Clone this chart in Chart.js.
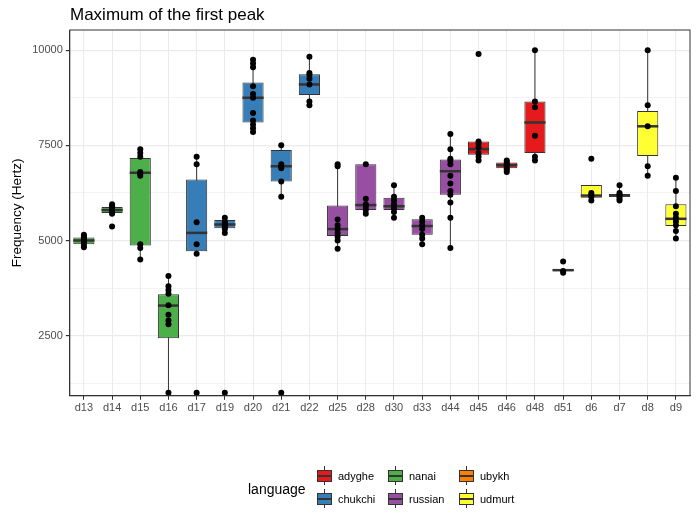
<!DOCTYPE html>
<html>
<head>
<meta charset="utf-8">
<script src="https://cdn.jsdelivr.net/npm/chart.js@4"></script>
<style>
  body { margin:0; background:#fff; font-family:"Liberation Sans", Arial, sans-serif; }
  #wrap { position:relative; width:700px; height:525px; }
  #title { position:absolute; left:70px; top:5px; font-size:17px; color:#000; }
  #legend { position:absolute; left:248px; top:465px; font-size:11px; color:#000; }
  #legend .ttl { position:absolute; left:0; top:16px; font-size:14px; }
  .item { position:absolute; height:17px; display:flex; align-items:center; white-space:nowrap; }
  .key { position:relative; width:17px; height:17px; margin-right:5px; }
  .key .bx { position:absolute; left:1px; top:3px; width:13px; height:10px; border:1px solid #333; }
  .key .md { position:absolute; left:1px; top:8px; width:15px; height:1.5px; background:#333; }
  .key .wh { position:absolute; left:8px; top:-1px; width:1px; height:19px; background:#333; }
</style>
</head>
<body>
<div id="wrap">
  <canvas id="chart" width="700" height="525"></canvas>
  <div id="title">Maximum of the first peak</div>
  <div id="legend"><span class="ttl">language</span></div>
</div>
<script>
// категории и язык
const labels = ['d13','d14','d15','d16','d17','d19','d20','d21','d22','d25','d28','d30','d33','d44','d45','d46','d48','d51','d6','d7','d8','d9'];
const lang = ['nanai','nanai','nanai','nanai','chukchi','chukchi','chukchi','chukchi','chukchi','russian','russian','russian','russian','russian','adyghe','adyghe','adyghe','ubykh','udmurt','udmurt','udmurt','udmurt'];
const langColors = { adyghe:'#E41A1C', chukchi:'#377EB8', nanai:'#4DAF4A', russian:'#984EA3', ubykh:'#FF7F00', udmurt:'#FFFF33' };

// box statistics
const q1     = [4900,5720,4870,2430,4720,5320,8100,6550,8820,5120,5800,5800,5150,6200,7250,6900,7300,4200,6120,6150,7220,5380];
const median = [5000,5800,6780,3290,5200,5420,8750,6950,9100,5300,5930,5900,5380,6820,7400,6980,8100,4220,6180,6180,8000,5570];
const q3     = [5080,5880,7170,3590,6600,5540,9150,7380,9370,5920,7000,6120,5560,7130,7600,7050,8650,4250,6460,6220,8400,5950];
const wLow   = [4820,5650,4500,1000,4650,5200,7850,6150,8550,4780,5700,5600,4900,4800,7100,6800,7100,4150,6050,6050,6700,5050];
const wHigh  = [5150,5950,7400,4070,7200,5600,9750,7500,9830,7000,7000,6450,5600,7800,7600,7100,10000,4250,6460,6450,10000,6650];

// observations
const points = {
  d13:[4820,4880,4950,5000,5030,5080,5120,5150],
  d14:[5370,5700,5750,5800,5830,5870,5900,5950],
  d15:[4500,4800,4900,6700,6750,6800,7200,7300,7400],
  d16:[1000,2800,2900,3050,3300,3600,3700,3800,4070],
  d17:[1000,4650,4900,5480,7000,7200],
  d19:[1000,5200,5300,5350,5400,5450,5500,5600],
  d20:[7850,7950,8050,8150,8350,8750,8850,9050,9550,9650,9750],
  d21:[1000,6150,6550,6900,6950,7000,7500],
  d22:[8550,8650,9100,9250,9350,9400,9830],
  d25:[4780,5000,5100,5200,5300,5400,5550,6950,7000],
  d28:[5700,5800,5880,5950,6100,7000],
  d30:[5600,5750,5850,5950,6050,6150,6450],
  d33:[4900,5050,5150,5300,5400,5500,5600],
  d44:[4800,5600,6000,6200,6300,6500,6700,7000,7100,7150,7400,7800],
  d45:[7100,7200,7300,7450,7550,7600,9900],
  d46:[6800,6850,6900,6950,7000,7050,7100],
  d48:[7100,7200,7750,8500,8650,10000],
  d51:[4150,4200,4450],
  d6:[6050,6150,6200,6250,7150],
  d7:[6050,6100,6150,6200,6250,6450],
  d8:[6700,6950,8000,8550,10000],
  d9:[5050,5250,5400,5500,5600,5700,5900,6300,6650]
};

const scatter = [];
labels.forEach(l => points[l].forEach(v => scatter.push({x:l, y:v})));

// whiskers + медиана
const boxPlugin = {
  id:'boxExtras',
  beforeDatasetDraw(chart, args) {
    if (args.index !== 0) return;
    const ctx = chart.ctx, y = chart.scales.y;
    const meta = chart.getDatasetMeta(0);
    ctx.save(); ctx.strokeStyle = '#333'; ctx.lineWidth = 1;
    meta.data.forEach((bar, i) => {
      ctx.beginPath();
      ctx.moveTo(bar.x, y.getPixelForValue(wLow[i]));
      ctx.lineTo(bar.x, y.getPixelForValue(wHigh[i]));
      ctx.stroke();
    });
    ctx.restore();
  },
  afterDatasetDraw(chart, args) {
    if (args.index !== 0) return;
    const ctx = chart.ctx, y = chart.scales.y;
    const meta = chart.getDatasetMeta(0);
    ctx.save(); ctx.strokeStyle = '#333'; ctx.lineWidth = 2.5;
    meta.data.forEach((bar, i) => {
      const py = y.getPixelForValue(median[i]);
      ctx.beginPath();
      ctx.moveTo(bar.x - bar.width/2, py);
      ctx.lineTo(bar.x + bar.width/2, py);
      ctx.stroke();
    });
    ctx.restore();
  }
};

new Chart(document.getElementById('chart'), {
  data: {
    labels: labels,
    datasets: [
      { type:'bar', order:2, data: labels.map((_,i)=>[q1[i], q3[i]]),
        backgroundColor: lang.map(l=>langColors[l]), borderColor:'#333', borderWidth:1,
        borderSkipped:false, categoryPercentage:1, barPercentage:0.75 },
      { type:'scatter', order:1, data: scatter, backgroundColor:'#000', borderWidth:0,
        pointRadius:3, pointHoverRadius:3 }
    ]
  },
  options: {
    responsive:false, animation:false,
    layout: { padding:{ left:5, right:10, top:30, bottom:108 } },
    plugins: { legend:{ display:false }, tooltip:{ enabled:false } },
    scales: {
      x: { type:'category', offset:true,
        grid:{ color:'#ebebeb', lineWidth:1, offset:false, drawTicks:true, tickLength:4, tickColor:'#333' },
        border:{ display:true, color:'#333' },
        ticks:{ color:'#4d4d4d', font:{ size:11, family:'Liberation Sans' }, maxRotation:0, autoSkip:false, padding:2 } },
      y: { min:920, max:10530,
        afterBuildTicks(s) { s.ticks = []; for (let v=1250; v<=10000; v+=1250) s.ticks.push({value:v}); },
        title:{ display:true, text:'Frequency (Hertz)', color:'#000', font:{ size:13.5, family:'Liberation Sans' } },
        grid:{ color:'#ebebeb', lineWidth: c => (c.tick && c.tick.value % 2500 === 0) ? 1.2 : 0.6,
          tickLength:4, tickColor: c => (c.tick && c.tick.value % 2500 === 0) ? '#333' : 'rgba(0,0,0,0)' },
        border:{ display:true, color:'#333' },
        ticks:{ color:'#4d4d4d', font:{ size:11, family:'Liberation Sans' }, padding:3,
          callback: v => v % 2500 === 0 ? String(v) : '' } }
    }
  },
  plugins: [boxPlugin, {
    id:'frame',
    afterDraw(chart) {
      const a = chart.chartArea, ctx = chart.ctx;
      ctx.save(); ctx.strokeStyle = '#333'; ctx.lineWidth = 1;
      ctx.strokeRect(a.left, a.top, a.right - a.left, a.bottom - a.top);
      ctx.restore();
    }
  }]
});

// legend (3 columns x 2 rows)
const legendOrder = ['adyghe','chukchi','nanai','russian','ubykh','udmurt'];
const lg = document.getElementById('legend');
legendOrder.forEach((name, i) => {
  const col = Math.floor(i/2), row = i % 2;
  const d = document.createElement('div');
  d.className = 'item';
  d.style.left = (68 + col*71) + 'px';
  d.style.top = (2 + row*23) + 'px';
  d.innerHTML = '<span class="key"><span class="wh"></span><span class="bx" style="background:' +
    langColors[name] + '"></span><span class="md"></span></span>' + name;
  lg.appendChild(d);
});
</script>
</body>
</html>
